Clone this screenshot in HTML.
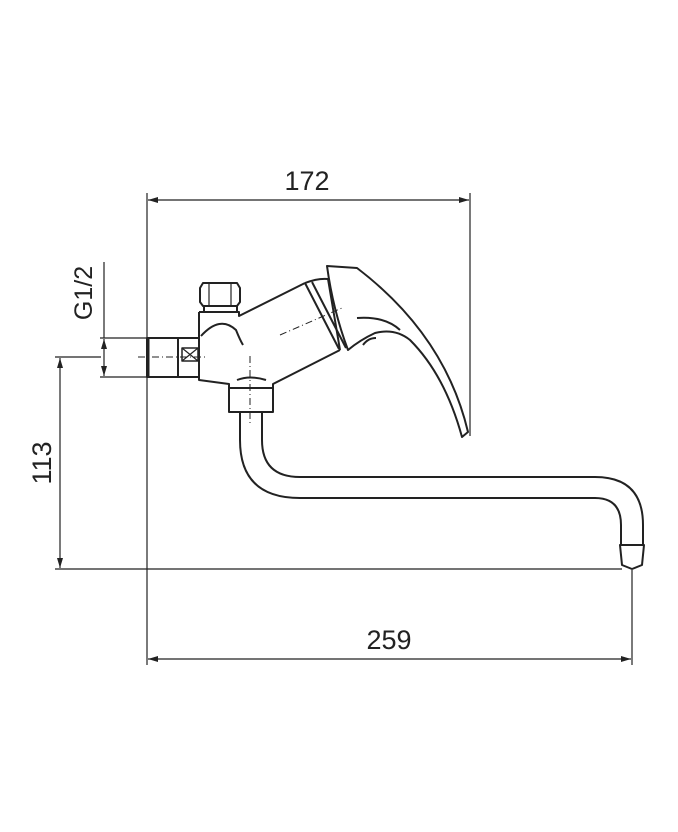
<!DOCTYPE html>
<html><head><meta charset="utf-8"><style>
html,body{margin:0;padding:0;background:#fff;}
svg{display:block}
text{font-family:"Liberation Sans",sans-serif;fill:#222}
</style></head><body>
<svg width="678" height="832" viewBox="0 0 678 832" xmlns="http://www.w3.org/2000/svg">
<defs>
<marker id="a" viewBox="0 0 10 6" refX="10" refY="3" markerWidth="10" markerHeight="6" orient="auto-start-reverse" markerUnits="userSpaceOnUse"><path d="M0,0 L10,3 L0,6z" fill="#222"/></marker>
</defs>
<g stroke="#222" stroke-width="1.2" fill="none">
<line x1="147" y1="193" x2="147" y2="665"/>
<line x1="470" y1="193" x2="470" y2="436"/>
<line x1="632" y1="570" x2="632" y2="665"/>
<line x1="55" y1="569" x2="622" y2="569"/>
<line x1="55" y1="357" x2="101" y2="357"/>
<line x1="100" y1="338" x2="147" y2="338"/>
<line x1="100" y1="377" x2="147" y2="377"/>
<line x1="104" y1="262" x2="104" y2="338"/>
<line x1="148" y1="200" x2="469" y2="200" marker-start="url(#a)" marker-end="url(#a)"/>
<line x1="148" y1="659" x2="631" y2="659" marker-start="url(#a)" marker-end="url(#a)"/>
<line x1="60" y1="358" x2="60" y2="568" marker-start="url(#a)" marker-end="url(#a)"/>
<line x1="104" y1="339" x2="104" y2="376" marker-start="url(#a)" marker-end="url(#a)"/>
</g>
<g stroke="#222" stroke-width="2" fill="none" stroke-linejoin="round">
<rect x="147" y="338" width="52" height="39"/>
<line x1="148" y1="338" x2="148" y2="377" stroke-width="3"/>
<line x1="178" y1="338" x2="178" y2="377"/>
<rect x="182" y="348" width="16" height="13" stroke-width="1.5"/>
<path d="M182,348 L198,361 M198,348 L182,361" stroke-width="1.2"/>
<path d="M203,283 L237,283 L240,288 L240,302 L237,306 L203,306 L200,302 L200,288 Z"/>
<line x1="209" y1="284" x2="209" y2="305" stroke-width="1.2"/>
<line x1="231" y1="284" x2="231" y2="305" stroke-width="1.2"/>
<rect x="204" y="306" width="33" height="6"/>
<path d="M199,312 L239,312 L239,316 L305,283 M199,312 L199,380 L229,384 L229,388 M273,388 L273,384 L340,350"/>
<path d="M201,336 Q220,315 236,330 Q240,340 243,345"/>
<path d="M237,380 Q250,375 266,380"/>
<path d="M305,283 Q318,278 328,279 L340,350"/>
<path d="M305,283 L339,349"/>
<line x1="312" y1="282" x2="346" y2="348"/>
<path d="M327,266 L357,268 Q445,335 468,432 L462,437 Q445,375 410,340 Q395,328 375,333 Q360,340 348,350 Q333,310 327,266 Z"/>
<path d="M357,318 Q385,316 400,330"/>
<path d="M363,345 Q368,338 376,338"/>
<rect x="229" y="388" width="44" height="24"/>
<path d="M240,412 L240,440 Q240,498 300,498 L595,498 Q621,498 621,525 L621,545"/>
<path d="M262,412 L262,440 Q262,477 300,477 L595,477 Q643,477 643,525 L643,545"/>
<path d="M620,545 L644,545 L642,565 L632,569 L622,565 Z"/>
</g>
<g stroke="#222" stroke-width="1" stroke-dasharray="7,3,1,3" fill="none">
<line x1="138" y1="357" x2="208" y2="357"/>
<line x1="250" y1="356" x2="250" y2="424"/>
<line x1="280" y1="335" x2="342" y2="308"/>
</g>
<text x="307" y="190" font-size="27" text-anchor="middle">172</text>
<text x="389" y="649" font-size="27" text-anchor="middle">259</text>
<text transform="translate(51,463) rotate(-90)" font-size="27" text-anchor="middle">113</text>
<text transform="translate(92,293) rotate(-90)" font-size="25" text-anchor="middle">G1/2</text>
</svg>
</body></html>
